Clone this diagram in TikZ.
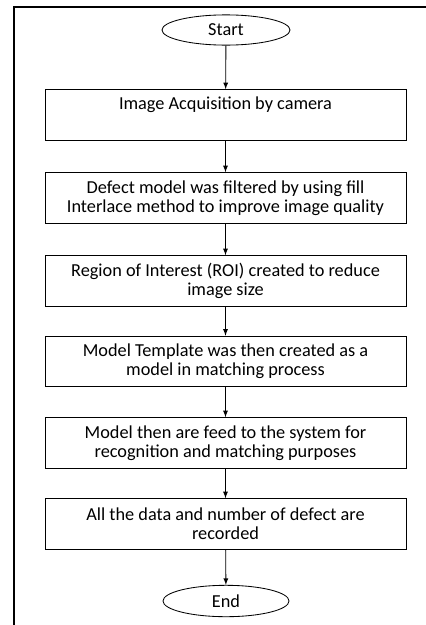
\documentclass[tikz,border=0pt]{standalone}
\usepackage{fontspec}
\setmainfont{Carlito}
\usetikzlibrary{shapes.geometric}

\begin{document}
\begin{tikzpicture}[x=0.025cm, y=-0.025cm, semithick, >=latex,
  box/.style={draw, align=center, minimum width=9.02cm, minimum height=1.27cm, inner sep=2pt, font=\fontsize{13}{13.5}\selectfont},
  term/.style={draw, ellipse, minimum width=3.2cm, minimum height=0.75cm, font=\fontsize{13}{13.5}\selectfont}]
  \useasboundingbox (0,0) rectangle (426,625);
  \draw[line width=1.6pt] (426,7) -- (14,7) -- (14,625);

  \node[term] (S) at (226,30) {Start};

  \node[box] (A) at (225.5,115) {Image Acquisition by camera\\\strut};
  \node[box] (B) at (225.5,198) {Defect model was filtered by using fill\\Interlace method to improve image quality};
  \node[box] (C) at (225.5,281) {Region of Interest (ROI) created to reduce\\image size};
  \node[box] (D) at (225.5,361.5) {Model Template was then created as a\\model in matching process};
  \node[box] (F) at (225.5,443) {Model then are feed to the system for\\recognition and matching purposes};
  \node[box] (G) at (225.5,524) {All the data and number of defect are\\recorded};

  \node[term, minimum width=3.15cm, minimum height=0.7cm] (Z) at (226,601) {End};

\draw[->] (S) to (A);
\draw[->] (A) to (B);
\draw[->] (B) to (C);
\draw[->] (C) to (D);
\draw[->] (D) to (F);
\draw[->] (F) to (G);
\draw[->] (G) to (Z);
\end{tikzpicture}
\end{document}
